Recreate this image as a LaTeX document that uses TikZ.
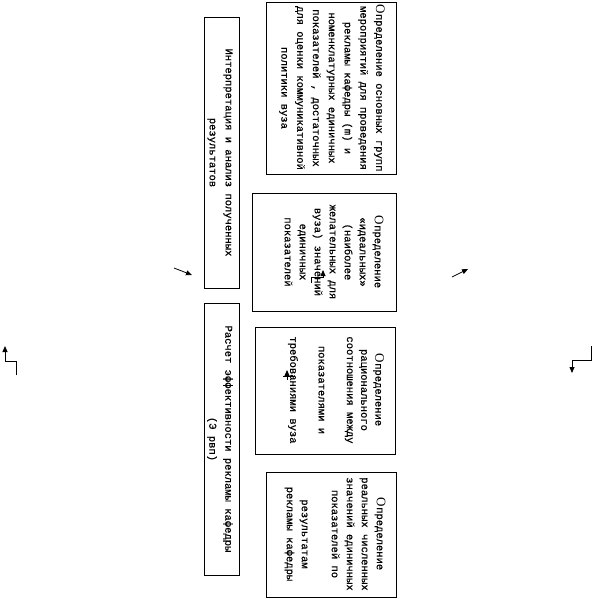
\documentclass[tikz,border=0pt]{standalone}
\usepackage{fontspec}
\setmainfont[FakeBold=0.6]{Liberation Mono}
\newfontfamily\bigofont{Liberation Serif}
\usetikzlibrary{arrows.meta}
\newcommand{\bigO}{{\bigofont\fontsize{13}{15}\selectfont О}}
\begin{document}
\begin{tikzpicture}[x=1pt,y=-1pt,
  box/.style={draw, line width=1pt, inner sep=0pt, anchor=north west},
  txt/.style={rotate=-90, align=center, inner sep=0pt, font=\fontsize{10.5}{15}\selectfont},
  arr/.style={line width=0.8pt, -{Triangle[width=5pt,length=6pt]}}]
\useasboundingbox (0,0) rectangle (592,599);
% right column boxes
\node[box, minimum width=130pt, minimum height=172pt] (b1) at (266,2) {};
\node[box, minimum width=144pt, minimum height=118pt] (b2) at (252,193) {};
\node[box, minimum width=140pt, minimum height=127pt] (b3) at (255,327) {};
\node[box, minimum width=130pt, minimum height=125pt] (b4) at (266,472) {};
% left column boxes
\node[box, minimum width=35pt, minimum height=271pt] (bA) at (204,17) {};
\node[box, minimum width=35pt, minimum height=272pt] (bB) at (204,303) {};
% texts
\node[txt, font=\fontsize{10.5}{15.8}\selectfont] (t1) at (332,88) {\bigO пределение основных групп\\мероприятий для проведения\\рекламы кафедры (m) и\\номенклатурных единичных\\показателей , достаточных\\для оценки коммуникативной\\политики вуза};
\node[txt] (t2) at (334,252) {\bigO пределение\\«идеальных»\\(наиболее\\желательных для\\вуза) значений\\единичных\\показателей};
\node[txt, font=\fontsize{10.5}{14.2}\selectfont] (t3) at (336,390) {\bigO пределение\\рационального\\соотношения между\\[14.2pt]показателями и\\[14.2pt]требованиями вуза};
\node[txt] (t4) at (335,534) {\bigO пределение\\реальных численных\\значений единичных\\показателей по\\[15pt]результатам\\рекламы кафедры};
\node[txt, font=\fontsize{10.5}{16}\selectfont] (tA) at (220,152.5) {Интерпретация и анализ полученных\\результатов};
\node[txt, font=\fontsize{10.5}{16}\selectfont] (tB) at (220,439) {Расчет эффективности рекламы кафедры\\(Э рвп)};
% free arrows
\coordinate (a1s) at (174,268); \coordinate (a1e) at (192,275);
\draw[arr] (a1s) -- (a1e);
\coordinate (a2s) at (452,277); \coordinate (a2e) at (468,269);
\draw[arr] (a2s) -- (a2e);
\coordinate (c1s) at (16,375); \coordinate (c1e) at (5,346);
\draw[arr] (c1s) -- (16,361) -- (5,361) -- (c1e);
\coordinate (c2s) at (591,346); \coordinate (c2e) at (572,373);
\draw[arr] (c2s) -- (591,360) -- (572,360) -- (c2e);
\coordinate (d1s) at (311,283); \coordinate (d1e) at (323,270);
\draw[arr] (d1s) -- (311,277) -- (323,277) -- (d1e);
\coordinate (d2a) at (283,376); \coordinate (d2b) at (295,376);
\draw[line width=0.8pt] (d2a) -- (d2b);
\coordinate (d3s) at (287,380); \coordinate (d3e) at (287,370);
\draw[arr] (d3s) -- (d3e);
\end{tikzpicture}
\end{document}
